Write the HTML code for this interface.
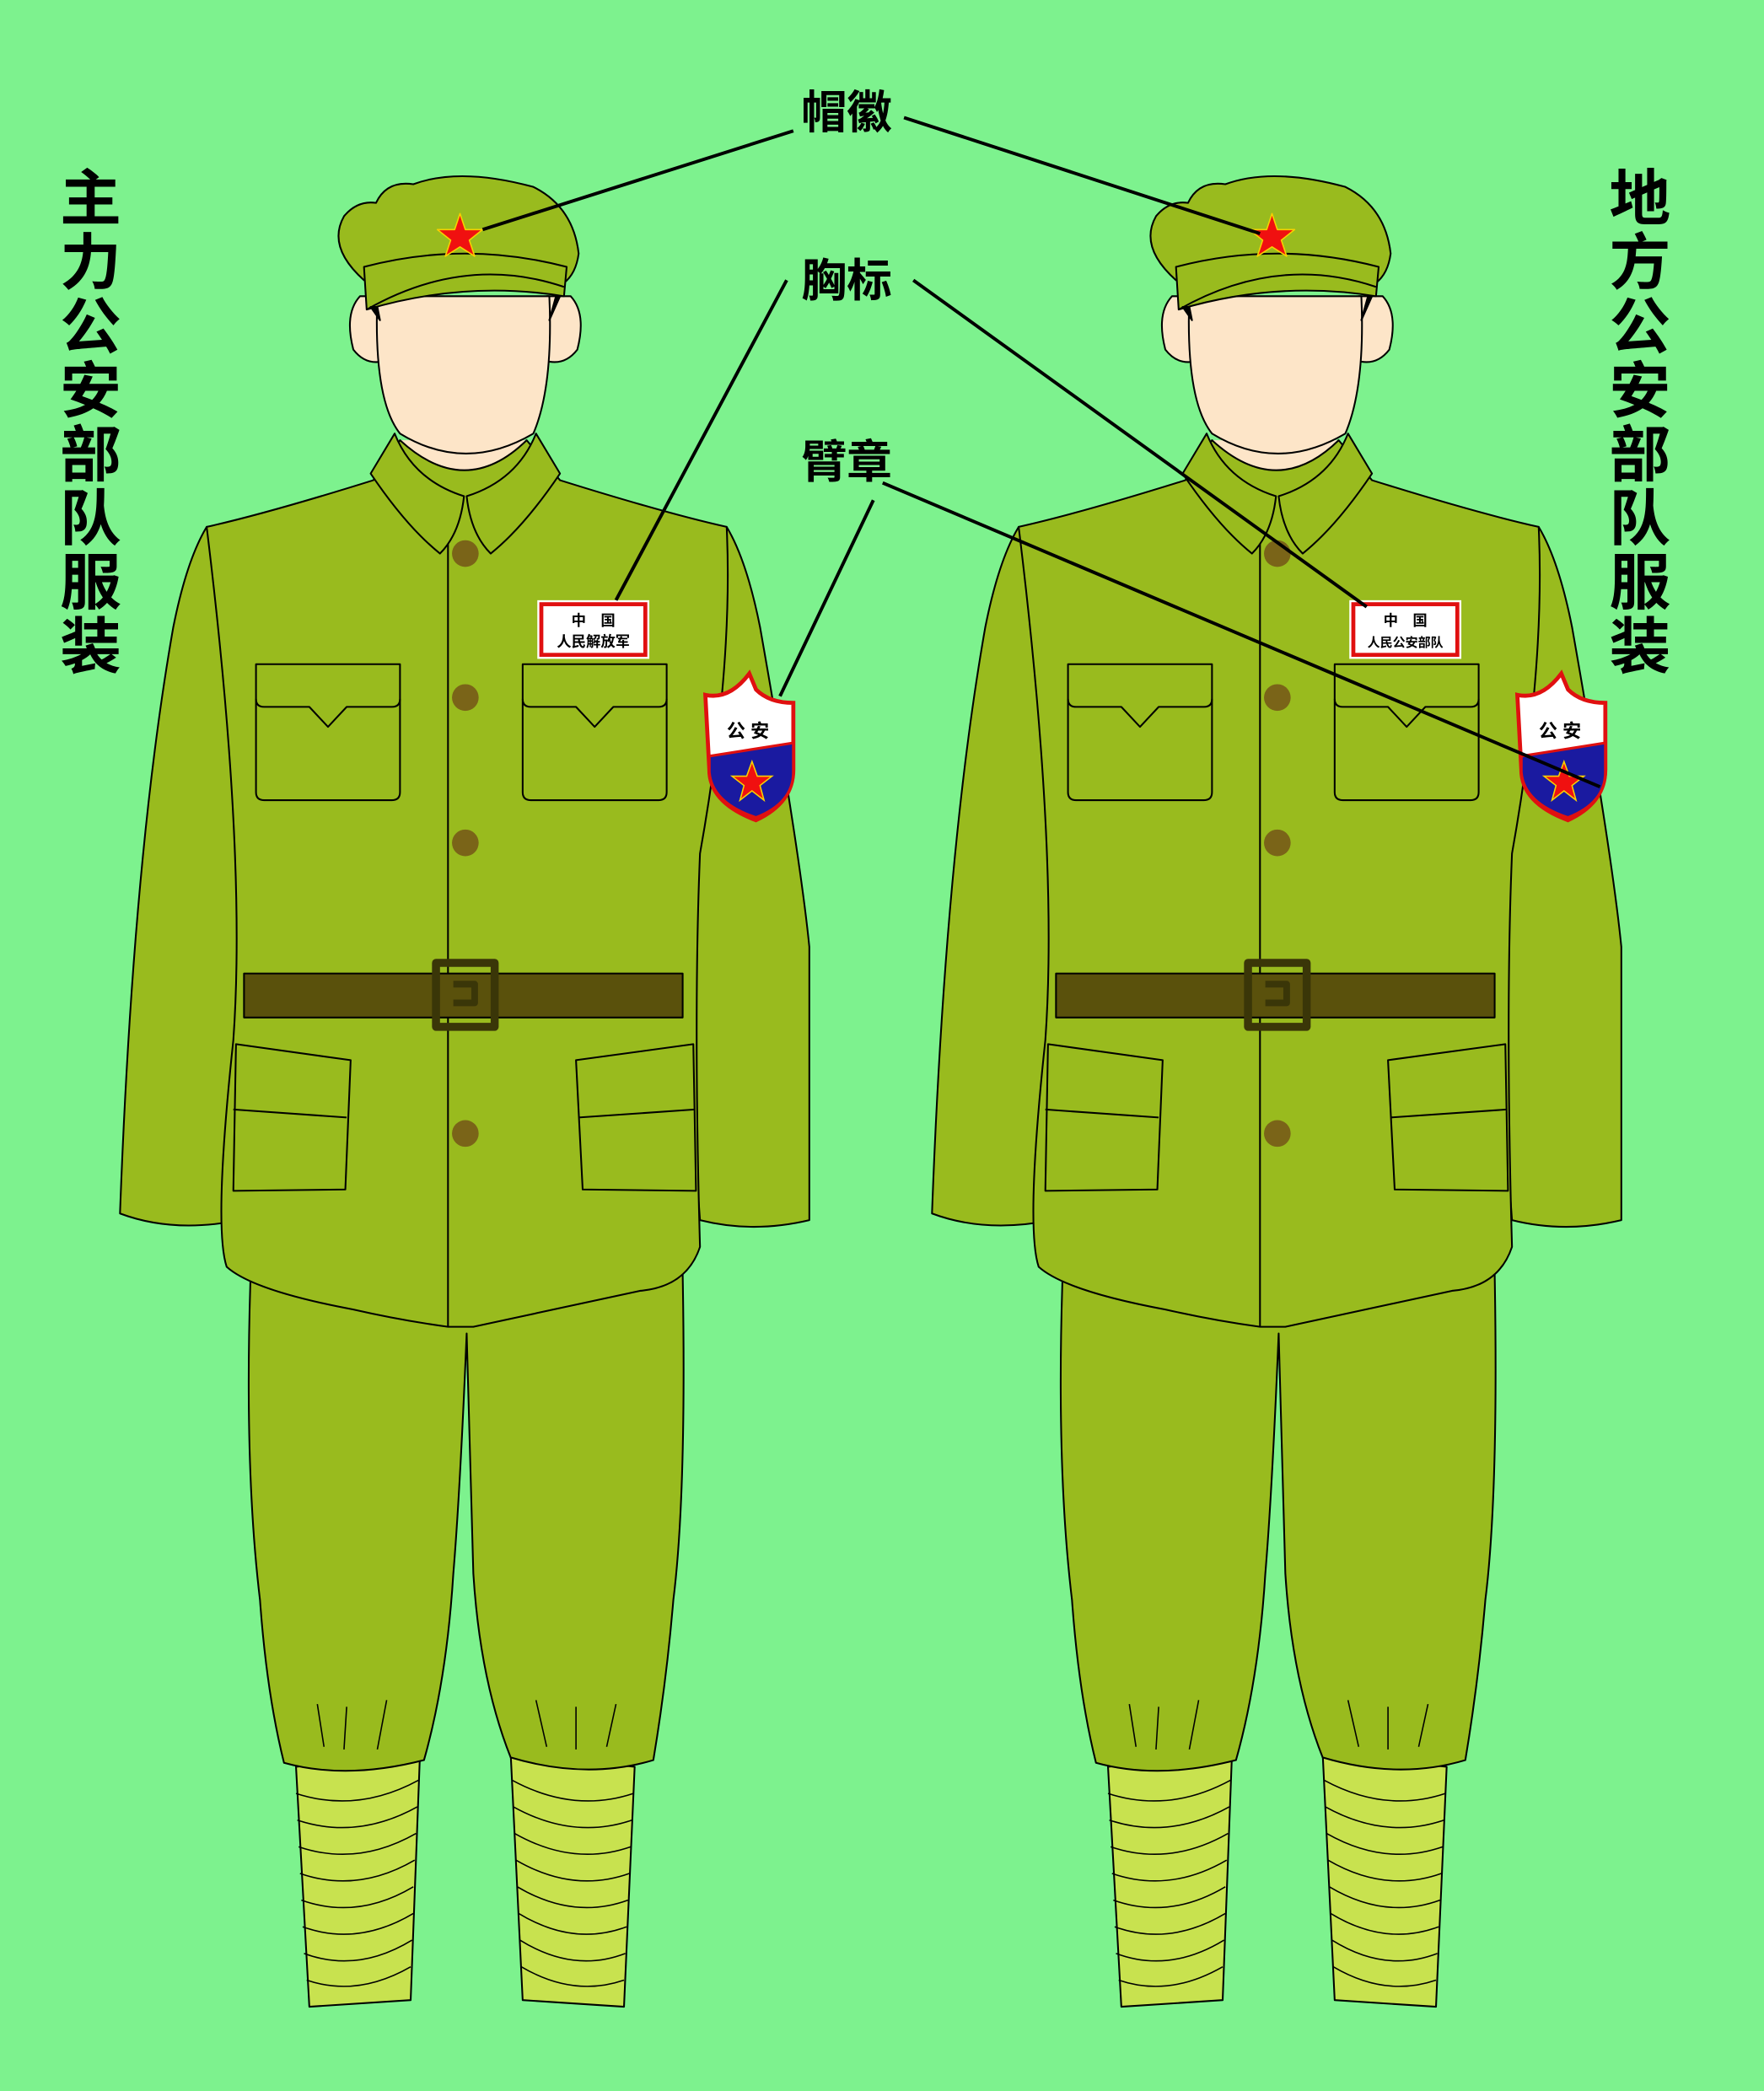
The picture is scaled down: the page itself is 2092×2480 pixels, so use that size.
<!DOCTYPE html>
<html><head><meta charset="utf-8"><style>
html,body{margin:0;padding:0;background:#7df28e;}
svg{display:block}
text{font-family:"Liberation Sans","Noto Sans CJK SC",sans-serif;font-weight:bold}
</style></head><body>
<svg width="2092" height="2480" viewBox="0 0 1323 1568" xmlns="http://www.w3.org/2000/svg">
<rect width="1323" height="1568" fill="#7df28e"/>
<defs>
<g id="fig" stroke="#000" stroke-width="1.3" stroke-linejoin="round">
 <path d="M222,1325 L315,1315 L308,1500 L232,1505 Z" fill="#c8e24f"/>
 <path d="M383,1315 L476,1325 L468,1505 L392,1500 Z" fill="#c8e24f"/>
 <g fill="none" stroke-width="1">
  <path d="M222,1345 Q268,1360 314,1335"/><path d="M223,1365 Q268,1380 313,1355"/>
  <path d="M224,1385 Q268,1400 312,1375"/><path d="M225,1405 Q268,1420 311,1395"/>
  <path d="M226,1425 Q268,1440 310,1415"/><path d="M227,1445 Q268,1460 310,1435"/>
  <path d="M228,1465 Q268,1480 309,1455"/><path d="M230,1485 Q268,1498 308,1475"/>
  <path d="M384,1335 Q430,1360 475,1345"/><path d="M385,1355 Q430,1380 474,1365"/>
  <path d="M386,1375 Q430,1400 473,1385"/><path d="M387,1395 Q430,1420 472,1405"/>
  <path d="M388,1415 Q430,1440 471,1425"/><path d="M389,1435 Q430,1460 470,1445"/>
  <path d="M390,1455 Q430,1480 469,1465"/><path d="M391,1475 Q430,1498 468,1485"/>
 </g>
 <path d="M188,955 L512,955 Q515,1120 505,1200 Q500,1260 490,1320 Q440,1335 383,1318 Q360,1260 355,1180 L350,1000 Q345,1120 340,1180 Q335,1260 318,1320 Q260,1335 213,1322 Q200,1270 195,1200 Q183,1100 188,955 Z" fill="#99bb1e"/>
 <g fill="none" stroke-width="1">
  <path d="M238,1278 L243,1310"/><path d="M260,1280 L258,1312"/><path d="M290,1275 L283,1312"/>
  <path d="M402,1275 L410,1310"/><path d="M432,1280 L432,1312"/><path d="M462,1278 L455,1310"/>
 </g>
 <path d="M155,395 Q140,420 130,470 Q100,640 90,910 Q130,925 180,915 Q185,780 192,650 Q175,520 155,395 Z" fill="#99bb1e"/>
 <path d="M545,395 Q560,420 570,470 Q600,640 607,710 L607,915 Q565,925 525,915 Q515,780 510,650 Q525,520 545,395 Z" fill="#99bb1e"/>
 <path d="M155,395 Q200,385 280,360 L300,330 Q349,370 395,330 L420,360 Q500,385 545,395 Q550,500 525,640 Q520,760 525,935 Q515,965 480,968 L355,995 L336,995 Q300,990 265,982 Q190,968 170,950 Q160,920 175,780 Q185,640 155,395 Z" fill="#99bb1e"/>
 <path d="M336,392 L336,995" fill="none"/>
 <path d="M300,330 Q349,375 395,330" fill="#fde5c8"/>
 <path d="M296,325 L278,355 Q305,395 330,415 Q345,400 348,372 Q310,360 296,325 Z" fill="#99bb1e"/>
 <path d="M402,325 L420,355 Q393,395 368,415 Q353,400 350,372 Q388,360 402,325 Z" fill="#99bb1e"/>
 <path d="M270,222 Q258,235 265,262 Q275,275 290,270 L288,222 Z" fill="#fde5c8"/>
 <path d="M428,222 Q440,235 433,262 Q423,275 408,270 L410,222 Z" fill="#fde5c8"/>
 <path d="M283,222 Q280,300 300,325 Q349,355 400,325 Q415,290 412,222 Z" fill="#fde5c8"/>
 <path d="M273,210 Q245,185 258,162 Q268,150 282,152 Q290,135 310,138 Q345,125 400,140 Q430,155 434,190 Q432,205 423,212 Z" fill="#99bb1e"/>
 <path d="M273,200 L275,232 Q349,210 423,222 L425,200 Q349,180 273,200 Z" fill="#99bb1e"/>
 <path d="M275,232 Q349,190 423,215" fill="none"/>
 <path d="M278,230 L285,240 L283,230Z M417,222 L412,240 L420,222Z" fill="#000"/>
 <path d="M192,498 L300,498 L300,594 Q300,600 294,600 L198,600 Q192,600 192,594 Z" fill="#99bb1e"/>
 <path d="M192,524 Q192,530 198,530 L232,530 L246,545 L260,530 L294,530 Q300,530 300,524" fill="none"/>
 <path d="M392,498 L500,498 L500,594 Q500,600 494,600 L398,600 Q392,600 392,594 Z" fill="#99bb1e"/>
 <path d="M392,524 Q392,530 398,530 L432,530 L446,545 L460,530 L494,530 Q500,530 500,524" fill="none"/>
 <path d="M177,783 L263,795 L259,892 L175,893 Z" fill="#99bb1e"/>
 <path d="M175,832 L260,838" fill="none"/>
 <path d="M432,795 L520,783 L522,893 L437,892 Z" fill="#99bb1e"/>
 <path d="M434,838 L521,832" fill="none"/>
 <rect x="183" y="730" width="329" height="33" fill="#5a510c"/>
 <rect x="327" y="722" width="44" height="48" fill="none" stroke="#3a3608" stroke-width="6"/>
 <path d="M340,738 L356,738 L356,752 L340,752" fill="none" stroke="#3a3608" stroke-width="5"/>
 <g fill="#7a6418" stroke="none">
  <circle cx="349" cy="415" r="10"/><circle cx="349" cy="523" r="10"/>
  <circle cx="349" cy="632" r="10"/><circle cx="349" cy="850" r="10"/>
 </g>
 <polygon points="345,160 349,172 362,172 352,180 356,192 345,185 334,192 338,180 328,172 341,172" fill="#f01010" stroke="#f8d000" stroke-width="1"/>
</g>
<g id="arm">
 <path d="M0,0 Q10,10 28,10 L28,60 Q28,85 0,98 Q-35,85 -35,60 L-38,4 Q-20,8 -5,-12 Z" transform="translate(3,12)" fill="#fff" stroke="#e01010" stroke-width="3"/>
 <path d="M-32,62 L31,52 L31,74 Q31,97 3,108 Q-30,97 -32,74 Z" fill="#1a1aa0" stroke="#e01010" stroke-width="2"/>
 <polygon points="0,66 4,77 15,77 6,84 9,95 0,88 -9,95 -6,84 -15,77 -4,77" fill="#f01010" stroke="#f8d000" stroke-width="1"/>
</g>
</defs>

<use href="#fig"/>
<use href="#fig" transform="translate(609,0)"/>

<rect x="403" y="450" width="84" height="44" fill="#fff"/>
<rect x="406" y="453" width="78" height="38" fill="#fff" stroke="#e01010" stroke-width="3"/>
<text x="445" y="469" font-size="11" text-anchor="middle">中　国</text>
<text x="445" y="485" font-size="11" text-anchor="middle">人民解放军</text>
<rect x="1012" y="450" width="84" height="44" fill="#fff"/>
<rect x="1015" y="453" width="78" height="38" fill="#fff" stroke="#e01010" stroke-width="3"/>
<text x="1054" y="469" font-size="11" text-anchor="middle">中　国</text>
<text x="1054" y="485" font-size="9.5" text-anchor="middle">人民公安部队</text>

<g transform="translate(564,505)"><use href="#arm"/><text x="-3" y="48" font-size="14" text-anchor="middle">公 安</text></g>
<g transform="translate(1173,505)"><use href="#arm"/><text x="-3" y="48" font-size="14" text-anchor="middle">公 安</text></g>

<g stroke="#000" stroke-width="2.5" fill="none">
 <path d="M595,98 L362,172"/>
 <path d="M678,88 L945,175"/>
 <path d="M590,210 L462,450"/>
 <path d="M685,210 L1025,455"/>
 <path d="M655,375 L585,522"/>
 <path d="M662,362 L1200,590"/>
</g>

<text x="635" y="96" font-size="34" text-anchor="middle">帽徽</text>
<text x="635" y="222" font-size="34" text-anchor="middle">胸标</text>
<text x="635" y="358" font-size="34" text-anchor="middle">臂章</text>

<g font-size="46" text-anchor="middle">
 <text x="68" y="165">主</text><text x="68" y="213">力</text><text x="68" y="261">公</text>
 <text x="68" y="309">安</text><text x="68" y="357">部</text><text x="68" y="405">队</text>
 <text x="68" y="453">服</text><text x="68" y="501">装</text>
 <text x="1230" y="165">地</text><text x="1230" y="213">方</text><text x="1230" y="261">公</text>
 <text x="1230" y="309">安</text><text x="1230" y="357">部</text><text x="1230" y="405">队</text>
 <text x="1230" y="453">服</text><text x="1230" y="501">装</text>
</g>
</svg>
</body></html>
